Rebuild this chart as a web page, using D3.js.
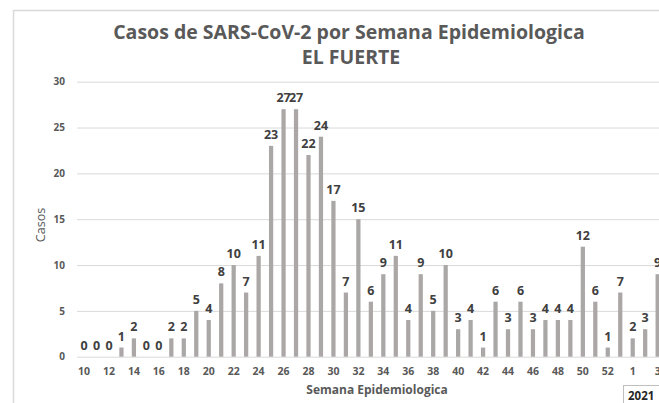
<!DOCTYPE html>
<html>
<head>
<meta charset="utf-8">
<script src="https://cdn.jsdelivr.net/npm/d3@7"></script>
<style>
    body { margin: 0; background: #fff; }
    text { font-family: "Open Sans", sans-serif; }
</style>
</head>
<body>
<div class="svg"></div>
<script>
// semanas epidemiologicas 2020 (10-53) y 2021 (1-3)
var weeks = ['10','11','12','13','14','15','16','17','18','19','20','21','22','23','24','25','26','27','28','29',
    '30','31','32','33','34','35','36','37','38','39','40','41','42','43','44','45','46','47','48','49',
    '50','51','52','53','1','2','3'];
var casos = [0,0,0,1,2,0,0,2,2,5,4,8,10,7,11,23,27,27,22,24,
    17,7,15,6,9,11,4,9,5,10,3,4,1,6,3,6,3,4,4,4,
    12,6,1,7,2,3,9];
var yTicks = [0, 5, 10, 15, 20, 25, 30];

var width = 659;
var height = 403;

var svg = d3.select('div.svg')
    .append('svg')
    .attr('width', width)
    .attr('height', height)

// chart border (cut off at right / bottom)
svg.append('path')
    .attr('d', 'M13.5,403 V10.5 H659')
    .attr('fill', 'none')
    .attr('stroke', '#d9d9d9')
    .attr('stroke-width', 1.5)

var x = d3.scaleBand()
    .domain(weeks)
    .range([77.8, 77.8 + 12.47 * weeks.length])
    .paddingInner(0.66)
    .paddingOuter(0.33)

var y = d3.scaleLinear()
    .domain([0, 30])
    .range([356.7, 81.7])

// gridlines + y labels
var yAxis = svg.append('g')
    .attr('transform', 'translate(77,0)')
    .call(d3.axisLeft(y).tickValues(yTicks).tickSize(-600).tickPadding(12))
yAxis.select('.domain').remove()
yAxis.selectAll('line').attr('stroke', '#d9d9d9')
yAxis.selectAll('text')
    .attr('fill', '#595959')
    .style('font-size', '10px')
    .style('font-weight', 'bold')
    .style('font-family', '"Open Sans", sans-serif')

// x labels every 2nd week
var xAxis = svg.append('g')
    .attr('transform', 'translate(0,' + 356.7 + ')')
    .call(d3.axisBottom(x).tickValues(weeks.filter((d, i) => i % 2 == 0)).tickSize(0).tickPadding(11))
xAxis.select('.domain').remove()
xAxis.selectAll('text')
    .attr('fill', '#595959')
    .style('font-size', '10.5px')
    .style('font-weight', 'bold')
    .style('font-family', '"Open Sans", sans-serif')

svg.selectAll('.bar')
    .data(casos)
    .enter()
    .append('rect')
    .attr('class', 'bar')
    .attr('x', (d, i) => x(weeks[i]))
    .attr('y', d => y(d))
    .attr('width', x.bandwidth())
    .attr('height', d => y(0) - y(d))
    .attr('fill', '#aba7a7')

svg.selectAll('.lbl')
    .data(casos)
    .enter()
    .append('text')
    .attr('class', 'lbl')
    .attr('x', (d, i) => x(weeks[i]) + x.bandwidth() / 2)
    .attr('y', d => y(d) - 7)
    .attr('text-anchor', 'middle')
    .attr('fill', '#404040')
    .style('font-size', '12.5px')
    .style('font-weight', 'bold')
    .text(d => d)

// titles
svg.append('text')
    .attr('x', 349)
    .attr('y', 39)
    .attr('text-anchor', 'middle')
    .attr('fill', '#595959')
    .style('font-size', '19.5px')
    .style('font-weight', 'bold')
    .text('Casos de SARS-CoV-2 por Semana Epidemiologica')
svg.append('text')
    .attr('x', 351)
    .attr('y', 64)
    .attr('text-anchor', 'middle')
    .attr('fill', '#595959')
    .style('font-size', '19.5px')
    .style('font-weight', 'bold')
    .text('EL FUERTE')

svg.append('text')
    .attr('transform', 'translate(45,225) rotate(-90)')
    .attr('text-anchor', 'middle')
    .attr('fill', '#595959')
    .style('font-size', '12.5px')
    .text('Casos')

svg.append('text')
    .attr('x', 377)
    .attr('y', 394)
    .attr('text-anchor', 'middle')
    .attr('fill', '#595959')
    .style('font-size', '12px')
    .style('font-weight', 'bold')
    .text('Semana Epidemiologica')

// year box
svg.append('rect')
    .attr('x', 623.5)
    .attr('y', 385.5)
    .attr('width', 60)
    .attr('height', 30)
    .attr('fill', '#fff')
    .attr('stroke', '#bfbfbf')
svg.append('text')
    .attr('x', 628)
    .attr('y', 400)
    .attr('fill', '#262626')
    .style('font-size', '11.5px')
    .style('font-weight', 'bold')
    .text('2021')
</script>
</body>
</html>
